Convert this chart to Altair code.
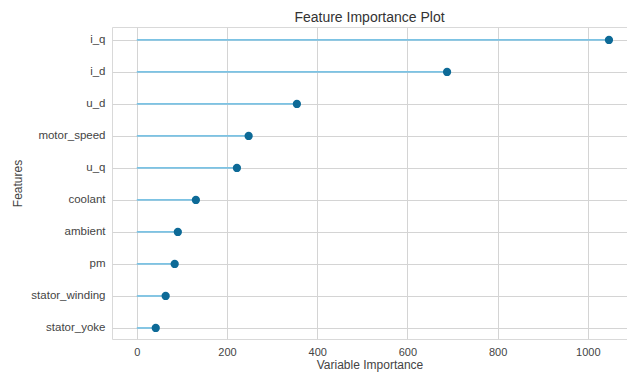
import altair as alt
import pandas as pd

features = ["i_q", "i_d", "u_d", "motor_speed", "u_q", "coolant",
            "ambient", "pm", "stator_winding", "stator_yoke"]
importance = [1047, 688, 355, 248, 222, 131, 91, 84, 64, 42]
x_ticks = [0, 200, 400, 600, 800, 1000]

df = pd.DataFrame({"feature": features, "importance": importance, "zero": [0] * len(features)})

FONT = "Liberation Sans"

x_enc = alt.X(
    "importance:Q",
    title="Variable Importance",
    scale=alt.Scale(domain=[-55, 1087], nice=False, zero=False),
    axis=alt.Axis(values=x_ticks, format="d", labelPadding=7, titlePadding=2,
                  labelFontSize=11, titleFontSize=12),
)
y_enc = alt.Y(
    "feature:N",
    title="Features",
    sort=features,
    scale=alt.Scale(type="point", padding=0.375, align=0.54),
    axis=alt.Axis(labelPadding=7, titlePadding=6, labelFontSize=11.5, titleFontSize=12),
)

stems = alt.Chart(df).mark_rule(color="#7cc3e4", strokeWidth=1.8).encode(
    x=x_enc, x2="zero:Q", y=y_enc
)
dots = alt.Chart(df).mark_circle(color="#0d6a97", opacity=1, size=68).encode(
    x="importance:Q", y=alt.Y("feature:N", sort=features)
)

chart = (
    alt.layer(stems, dots)
    .properties(
        width=515,
        height=312,
        title=alt.TitleParams("Feature Importance Plot", fontSize=14, fontWeight="normal",
                              font=FONT, color="#333333", offset=2),
        autosize=alt.AutoSizeParams(type="none"),
        padding={"left": 104, "top": 19, "right": 0, "bottom": 33},
        background="white",
    )
    .configure_view(stroke="#d9d9d9", strokeWidth=1)
    .configure_axis(
        grid=True,
        gridColor="#d4d4d4",
        gridWidth=1,
        domain=False,
        ticks=False,
        labelFont=FONT,
        labelColor="#444444",
        titleFont=FONT,
        titleFontWeight="normal",
        titleColor="#444444",
    )
)

chart.save("out.html", embed_options={"renderer": "svg", "actions": False})
